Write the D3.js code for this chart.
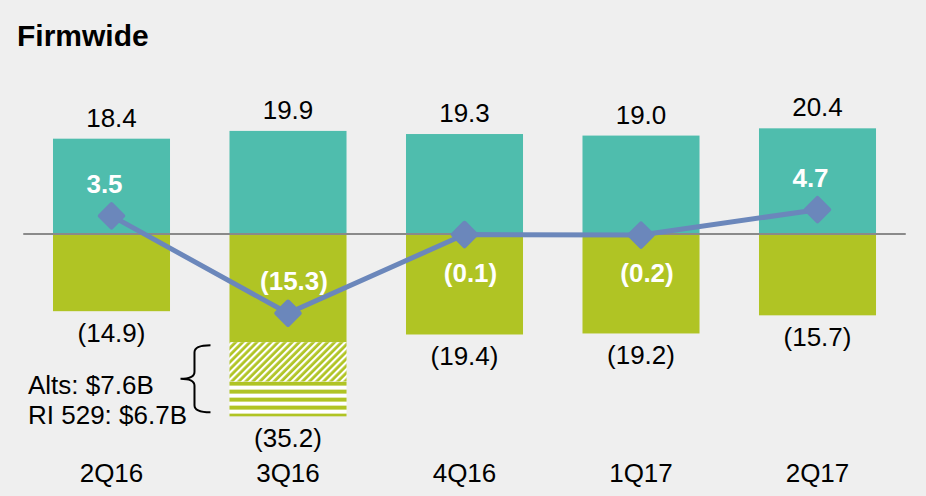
<!DOCTYPE html>
<html>
<head>
<meta charset="utf-8">
<script src="https://cdn.jsdelivr.net/npm/d3@7"></script>
<style>
  body { margin: 0; background: #efefef; }
  text { font-family: Arial, "Liberation Sans", sans-serif; }
</style>
</head>
<body>
<script>
var width = 926;
var height = 496;

// data
var quarters = ["2Q16", "3Q16", "4Q16", "1Q17", "2Q17"];
var inflows = [18.4, 19.9, 19.3, 19.0, 20.4];
var outflows = [-14.9, -35.2, -19.4, -19.2, -15.7];
var netFlows = [3.5, -15.3, -0.1, -0.2, 4.7];
// large one-off outflows inside 3Q16
var breakoutQuarter = "3Q16";
var breakoutLabels = ["Alts: $7.6B", "RI 529: $6.7B"];
var breakoutValues = [7.6, 6.7];

var teal = "#4fbdad";
var green = "#b0c424";
var lineColor = "#6b87bb";

var svg = d3.select("body").append("svg")
    .attr("width", width)
    .attr("height", height);

svg.append("rect")
    .attr("width", width)
    .attr("height", height)
    .attr("fill", "#efefef");

var defs = svg.append("defs");

var xScale = d3.scaleBand()
    .domain(quarters)
    .range([23.25, 905.75])
    .paddingInner(0.337)
    .paddingOuter(0.1685);

// 5.18 px per $B, zero at y=234
var yScale = d3.scaleLinear()
    .domain([-40, 25])
    .range([234 + 40 * 5.18, 234 - 25 * 5.18]);

var bw = xScale.bandwidth();

// title
svg.append("text")
    .attr("x", 17)
    .attr("y", 46)
    .attr("font-size", 30)
    .attr("font-weight", "bold")
    .attr("fill", "#000")
    .text("Firmwide");

// inflow bars
svg.selectAll("rect.inflow")
    .data(inflows)
    .enter().append("rect")
    .attr("class", "inflow")
    .attr("x", function(d, i) { return xScale(quarters[i]); })
    .attr("y", function(d) { return yScale(d); })
    .attr("width", bw)
    .attr("height", function(d) { return yScale(0) - yScale(d); })
    .attr("fill", teal);

// outflow bars (3Q16 solid part excludes the breakout pieces)
var breakoutTotal = d3.sum(breakoutValues);
function solidOutflow(d, i) {
    return quarters[i] === breakoutQuarter ? d + breakoutTotal : d;
}

svg.selectAll("rect.outflow")
    .data(outflows)
    .enter().append("rect")
    .attr("class", "outflow")
    .attr("x", function(d, i) { return xScale(quarters[i]); })
    .attr("y", yScale(0))
    .attr("width", bw)
    .attr("height", function(d, i) { return yScale(solidOutflow(d, i)) - yScale(0); })
    .attr("fill", green);

// breakout segments with patterns
var bi = quarters.indexOf(breakoutQuarter);
var segStart = solidOutflow(outflows[bi], bi);
var segs = [];
var run = segStart;
breakoutValues.forEach(function(v, k) {
    segs.push({top: run, bottom: run - v, label: breakoutLabels[k]});
    run -= v;
});

var hatch = defs.append("pattern")
    .attr("id", "hatch")
    .attr("patternUnits", "userSpaceOnUse")
    .attr("width", 5)
    .attr("height", 5)
    .attr("patternTransform", "rotate(45)");
hatch.append("rect").attr("width", 5).attr("height", 5).attr("fill", green);
hatch.append("rect").attr("width", 2.2).attr("height", 5).attr("fill", "#fff");

var stripes = defs.append("pattern")
    .attr("id", "stripes")
    .attr("patternUnits", "userSpaceOnUse")
    .attr("x", 0)
    .attr("y", yScale(segs[1].top))
    .attr("width", 10)
    .attr("height", 8);
stripes.append("rect").attr("width", 10).attr("height", 8).attr("fill", "#fff");
stripes.append("rect").attr("width", 10).attr("height", 4).attr("fill", green);

svg.selectAll("rect.seg")
    .data(segs)
    .enter().append("rect")
    .attr("class", "seg")
    .attr("x", xScale(breakoutQuarter))
    .attr("y", function(d) { return yScale(d.top); })
    .attr("width", bw)
    .attr("height", function(d) { return yScale(d.bottom) - yScale(d.top); })
    .attr("fill", function(d, k) { return k === 0 ? "url(#hatch)" : "url(#stripes)"; });

// zero line
svg.append("line")
    .attr("x1", xScale.range()[0])
    .attr("x2", xScale.range()[1])
    .attr("y1", yScale(0))
    .attr("y2", yScale(0))
    .attr("stroke", "#8a8a8a")
    .attr("stroke-width", 2);

// brace + breakout labels
var braceTop = yScale(segs[0].top) + 3;
var braceBot = yScale(segs[1].bottom) - 4;
var braceMid = (braceTop + braceBot) / 2;
var bx = xScale(breakoutQuarter) - 35;
var bEnd = bx + 16;
var bTip = bx - 14;
svg.append("path")
    .attr("d", "M" + bEnd + "," + braceTop +
        " Q" + bx + "," + braceTop + " " + bx + "," + (braceTop + 7) +
        " L" + bx + "," + (braceMid - 7) +
        " Q" + bx + "," + braceMid + " " + bTip + "," + braceMid +
        " Q" + bx + "," + braceMid + " " + bx + "," + (braceMid + 7) +
        " L" + bx + "," + (braceBot - 7) +
        " Q" + bx + "," + braceBot + " " + bEnd + "," + braceBot)
    .attr("fill", "none")
    .attr("stroke", "#000")
    .attr("stroke-width", 2);

svg.selectAll("text.breakout")
    .data(segs)
    .enter().append("text")
    .attr("class", "breakout")
    .attr("x", 28)
    .attr("y", function(d, k) { return braceMid + 15 + k * 30; })
    .attr("font-size", 26)
    .attr("fill", "#000")
    .text(function(d) { return d.label; });

function fmt(v) {
    return v < 0 ? "(" + d3.format(".1f")(-v) + ")" : d3.format(".1f")(v);
}

// inflow labels
svg.selectAll("text.inlab")
    .data(inflows)
    .enter().append("text")
    .attr("class", "inlab")
    .attr("x", function(d, i) { return xScale(quarters[i]) + bw / 2; })
    .attr("y", function(d) { return yScale(d) - 12; })
    .attr("text-anchor", "middle")
    .attr("font-size", 26)
    .attr("fill", "#000")
    .text(fmt);

// outflow labels
svg.selectAll("text.outlab")
    .data(outflows)
    .enter().append("text")
    .attr("class", "outlab")
    .attr("x", function(d, i) { return xScale(quarters[i]) + bw / 2; })
    .attr("y", function(d) { return yScale(d) + 31; })
    .attr("text-anchor", "middle")
    .attr("font-size", 26)
    .attr("fill", "#000")
    .text(fmt);

// net flow line
var line = d3.line()
    .x(function(d, i) { return xScale(quarters[i]) + bw / 2; })
    .y(function(d) { return yScale(d); });

svg.append("path")
    .datum(netFlows)
    .attr("d", line)
    .attr("fill", "none")
    .attr("stroke", lineColor)
    .attr("stroke-width", 5)
    .attr("stroke-linejoin", "round");

svg.selectAll("rect.marker")
    .data(netFlows)
    .enter().append("rect")
    .attr("class", "marker")
    .attr("x", -10.3)
    .attr("y", -10.3)
    .attr("width", 20.6)
    .attr("height", 20.6)
    .attr("rx", 2)
    .attr("fill", lineColor)
    .attr("transform", function(d, i) {
        return "translate(" + (xScale(quarters[i]) + bw / 2) + "," + yScale(d) + ") rotate(45)";
    });

// net labels: above the marker, below when it sits on the zero line
svg.selectAll("text.netlab")
    .data(netFlows)
    .enter().append("text")
    .attr("class", "netlab")
    .attr("x", function(d, i) { return xScale(quarters[i]) + bw / 2 + (d < 0 ? 6 : -7); })
    .attr("y", function(d) { return Math.abs(d) < 1 ? yScale(d) + 47 : yScale(d) - 23; })
    .attr("text-anchor", "middle")
    .attr("font-size", 26)
    .attr("font-weight", "bold")
    .attr("fill", "#fff")
    .text(fmt);

// category labels
svg.selectAll("text.cat")
    .data(quarters)
    .enter().append("text")
    .attr("class", "cat")
    .attr("x", function(d) { return xScale(d) + bw / 2; })
    .attr("y", 482)
    .attr("text-anchor", "middle")
    .attr("font-size", 26)
    .attr("fill", "#000")
    .text(function(d) { return d; });
</script>
</body>
</html>
